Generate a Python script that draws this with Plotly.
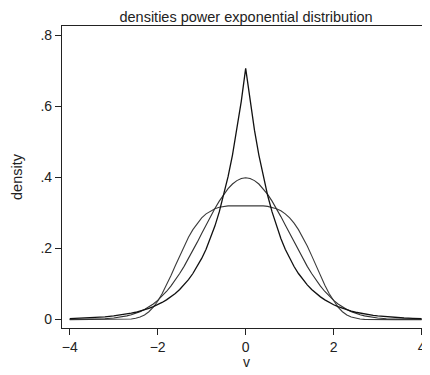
import plotly.graph_objects as go

# grid (non-negative half; curves are symmetric about 0)
x_half = [0.0, 0.1, 0.2, 0.3, 0.4, 0.5, 0.6, 0.7, 0.8, 0.9, 1.0,
          1.1, 1.2, 1.3, 1.4, 1.5, 1.6, 1.7, 1.8, 1.9, 2.0,
          2.1, 2.2, 2.3, 2.4, 2.5, 2.6, 2.7, 2.8, 2.9, 3.0,
          3.2, 3.4, 3.6, 3.8, 4.0]

# Laplace-like (peaked) density
laplace_half = [0.707, 0.614, 0.533, 0.463, 0.402, 0.349, 0.303, 0.263, 0.228, 0.198, 0.172,
                0.1493, 0.1296, 0.1125, 0.0977, 0.0848, 0.0736, 0.0639, 0.0555, 0.0482, 0.0418,
                0.0363, 0.0315, 0.0274, 0.0237, 0.0206, 0.0179, 0.0155, 0.0135, 0.0117, 0.0102,
                0.0077, 0.0058, 0.0044, 0.0033, 0.0025]

# normal density
normal_half = [0.3989, 0.3970, 0.3910, 0.3814, 0.3683, 0.3521, 0.3332, 0.3123, 0.2897, 0.2661, 0.2420,
               0.2179, 0.1942, 0.1714, 0.1497, 0.1295, 0.1109, 0.0940, 0.0790, 0.0656, 0.0540,
               0.0440, 0.0355, 0.0283, 0.0224, 0.0175, 0.0136, 0.0104, 0.0079, 0.0060, 0.0044,
               0.0024, 0.0012, 0.0006, 0.0003, 0.0001]

# flat-topped density
flat_half = [0.3207, 0.3207, 0.3206, 0.3204, 0.3198, 0.3184, 0.3160, 0.3120, 0.3060, 0.2975, 0.2861,
             0.2713, 0.2531, 0.2314, 0.2068, 0.1799, 0.1517, 0.1235, 0.0967, 0.0724, 0.0516,
             0.0348, 0.0221, 0.0131, 0.0072, 0.0037, 0.0017, 0.0007, 0.0003, 0.0001, 0.0,
             0.0, 0.0, 0.0, 0.0, 0.0]

x_ticks = [-4, -2, 0, 2, 4]
x_tick_labels = ["\u22124", "\u22122", "0", "2", "4"]
y_ticks = [0, 0.2, 0.4, 0.6, 0.8]
y_tick_labels = ["0", ".2", ".4", ".6", ".8"]


def full(half_x, half_y):
    xs = [-v for v in reversed(half_x[1:])] + half_x
    ys = list(reversed(half_y[1:])) + half_y
    return xs, ys


fig = go.Figure()
for ys_half, color, width in [(flat_half, "#3c3c3c", 1.1),
                              (normal_half, "#333333", 1.1),
                              (laplace_half, "#111111", 1.3)]:
    xs, ys = full(x_half, ys_half)
    fig.add_trace(go.Scatter(x=xs, y=ys, mode="lines",
                             line=dict(color=color, width=width),
                             showlegend=False, hoverinfo="skip"))

# page has an 8px body margin: figure is placed at (8, 8) in the window
OFF = 8
W, H = 430 - OFF, 375 - OFF
PLOT_LEFT, PLOT_TOP, PLOT_BOTTOM = 62, 26, 328   # window pixels
L, R, T = PLOT_LEFT - OFF, 0, PLOT_TOP - OFF
B = H - (PLOT_BOTTOM - OFF)
PW, PH = W - L - R, H - T - B


def px_x(px):  # window pixel -> paper x
    return (px - OFF - L) / PW


def px_y(py):  # window pixel -> paper y
    return (H - B - (py - OFF)) / PH


fig.update_layout(
    width=W, height=H,
    margin=dict(l=L, r=R, t=T, b=B, pad=0),
    paper_bgcolor="white", plot_bgcolor="white",
    font=dict(family="Liberation Sans, Arial, sans-serif", size=14, color="#222"),
    title=dict(text="densities power exponential distribution",
               x=0.5, xref="paper", y=1 - (17 - OFF) / H, yref="container",
               xanchor="center", yanchor="middle",
               font=dict(size=14.5, color="#222")),
    xaxis=dict(range=[-4.175, 4.19], tickvals=x_ticks, ticktext=x_tick_labels,
               showgrid=False, zeroline=False, showline=True, mirror=True,
               linecolor="#222", linewidth=1.2, ticks="outside", ticklen=6,
               tickcolor="#222", tickwidth=1, tickfont=dict(size=14)),
    yaxis=dict(range=[-0.0237, 0.826], tickvals=y_ticks, ticktext=y_tick_labels,
               showgrid=False, zeroline=False, showline=True,
               linecolor="#222", linewidth=1.2, ticks="outside", ticklen=6,
               tickcolor="#222", tickwidth=1, tickfont=dict(size=14)),
    annotations=[
        dict(text="density", xref="paper", yref="paper",
             x=px_x(17), y=px_y(177),
             xanchor="center", yanchor="middle", textangle=-90, showarrow=False,
             font=dict(size=14.5, color="#222")),
        dict(text="v", xref="paper", yref="paper",
             x=px_x(246), y=px_y(362),
             xanchor="center", yanchor="middle", showarrow=False,
             font=dict(size=14, color="#222")),
    ],
)

fig.write_html("out.html")
